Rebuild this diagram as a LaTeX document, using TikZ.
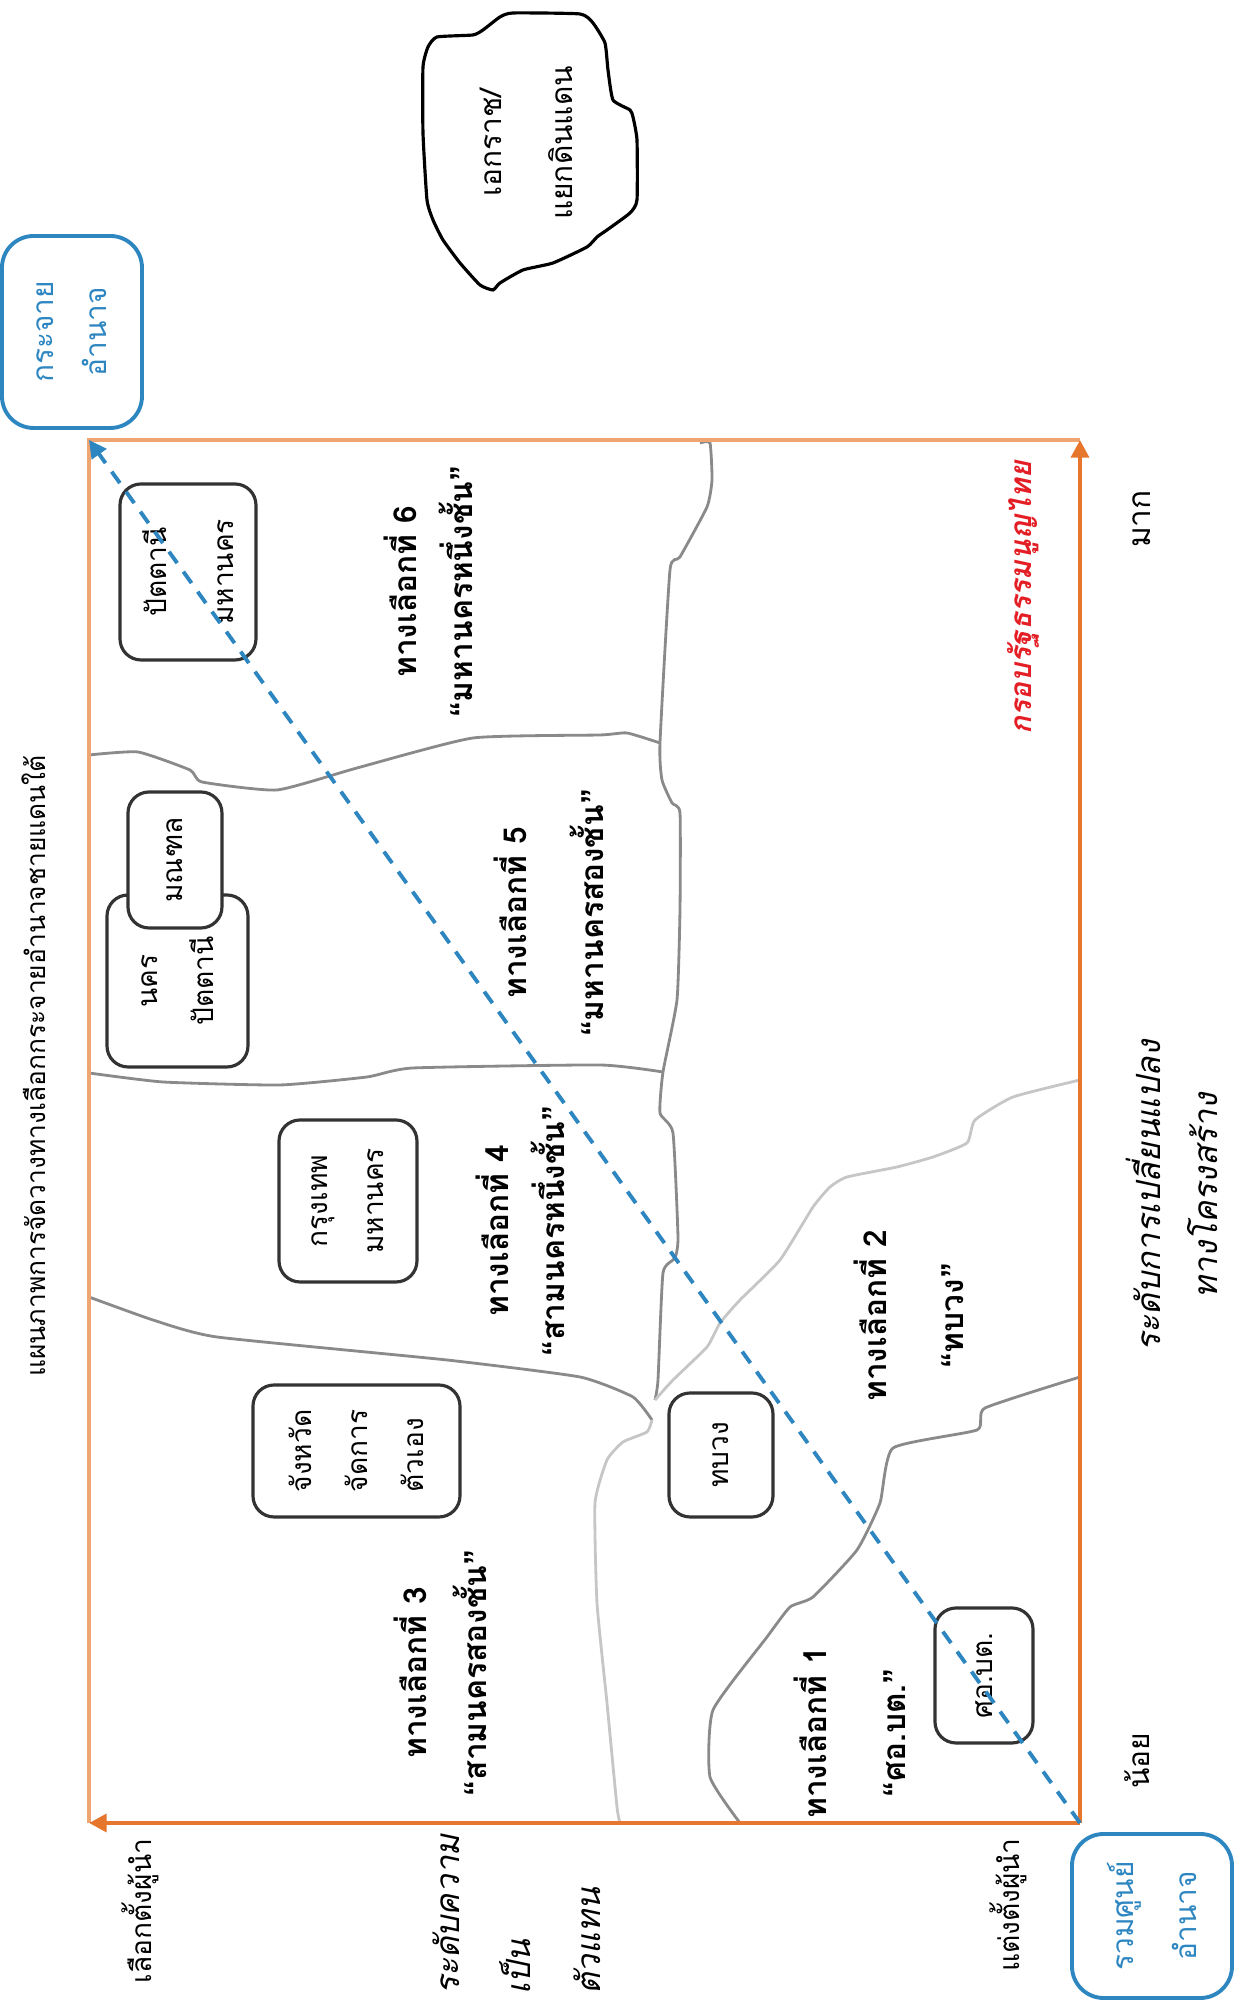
\documentclass[tikz,border=0pt]{standalone}
\usepackage{fontspec}
\setmainfont[Script=Thai]{Loma}
\newfontfamily\qfont{Liberation Sans}
\newcommand\oq{{\qfont “}}
\newcommand\cq{{\qfont ”}}
\usepackage{tikz}
\usetikzlibrary{arrows.meta,calc,positioning}
\definecolor{axis}{HTML}{E5762C}
\definecolor{frame}{HTML}{EFA572}
\definecolor{power}{HTML}{2E86C1}
\definecolor{limit}{HTML}{E31E24}
\definecolor{border}{HTML}{8A8A8A}
\definecolor{faint}{HTML}{C6C6C6}

\begin{document}
\begin{tikzpicture}[rotate=90,transform shape,
  lbl/.style={font=\fontsize{8}{16}\selectfont,align=center,inner sep=1pt},
  opt/.style={lbl,font=\fontsize{9}{16}\selectfont\bfseries},
  slant/.style={lbl,font=\fontsize{9.5}{16}\selectfont\itshape},
  unit/.style={lbl,draw=black!80,line width=0.9pt,rounded corners=6pt,fill=white},
  pole/.style={lbl,draw=power,line width=1.1pt,rounded corners=9pt,text=power},
  mapline/.style={border,line width=0.8pt},
  mapfaint/.style={faint,line width=0.8pt},
  tri/.style={-{Triangle[length=5pt,width=5pt]}}]
  \useasboundingbox (0,0) rectangle (20.01,12.42);

  \coordinate (O) at (1.78,1.62);
  \coordinate (xend) at (15.61,1.62);
  \coordinate (yend) at (1.78,11.53);
  \coordinate (corner) at (15.61,11.53);

  % region borders
  \draw[mapline] plot[smooth,tension=0.3] coordinates {(12.46,11.53) (12.49,11.04) (12.31,10.52) (12.19,10.40) (12.11,9.65) (12.33,8.85) (12.63,7.69) (12.66,6.42) (12.68,6.15) (12.58,5.82)};
  \draw[mapline] plot[smooth,tension=0.3] coordinates {(15.58,5.42) (15.58,5.32) (15.21,5.30) (14.94,5.35) (14.44,5.62) (14.31,5.72) (12.58,5.82) (12.21,5.80) (11.98,5.70) (11.88,5.62) (10.91,5.62) (10.01,5.65) (9.29,5.79) (8.88,5.82) (8.68,5.69) (7.64,5.64) (7.43,5.67) (7.28,5.79) (6.21,5.84) (6.01,5.87)};
  \draw[mapline] plot[smooth,tension=0.3] coordinates {(9.28,11.53) (9.19,10.79) (9.16,9.62) (9.24,8.75) (9.33,8.29) (9.36,6.42) (9.29,5.79)};
  \draw[mapline] plot[smooth,tension=0.3] coordinates {(7.04,11.53) (6.81,10.89) (6.64,10.25) (6.41,7.95) (6.24,6.62) (6.04,6.09) (5.81,5.90)};
  \draw[mapfaint] plot[smooth,tension=0.3] coordinates {(9.21,1.62) (9.04,2.29) (8.81,2.67) (8.58,2.75) (8.44,3.09) (8.34,3.45) (8.24,3.95) (8.14,4.12) (7.94,4.29) (7.41,4.62) (7.01,5.02) (6.78,5.22) (6.54,5.35) (6.21,5.69) (6.01,5.87)};
  \draw[mapfaint] plot[smooth,tension=0.3] coordinates {(5.81,5.90) (5.69,5.95) (5.59,6.19) (5.41,6.35) (4.98,6.47) (3.98,6.45) (2.98,6.35) (1.94,6.25) (1.78,6.22)};
  \draw[mapline] plot[smooth,tension=0.3] coordinates {(6.24,1.62) (5.93,2.57) (5.71,2.65) (5.53,3.49) (4.98,3.62) (4.51,3.85) (4.04,4.29) (3.94,4.52) (3.64,4.75) (2.91,5.29) (2.24,5.32) (1.78,5.02)};

  % frame and axes
  \draw[frame,line width=0.9pt] (yend) -- (corner) -- (xend);
  \draw[axis,line width=1.4pt,tri] (O) -- (xend);
  \draw[axis,line width=1.4pt,tri] (O) -- (yend);

  \node[unit,minimum width=1.76cm,minimum height=1.36cm,font=\fontsize{8}{19}\selectfont] (pattani) at (14.29,10.54) {ปัตตานี\\มหานคร};
  \node[unit,minimum width=1.72cm,minimum height=1.41cm] (nakhon) at (10.20,10.645) {นคร\\ปัตตานี};
  \node[unit,minimum width=1.36cm,minimum height=0.94cm] (monthon) at (11.41,10.67) {มณฑล};
  \node[unit,minimum width=1.62cm,minimum height=1.38cm] (bkk) at (8.00,8.94) {กรุงเทพ\\มหานคร};
  \node[unit,minimum width=1.32cm,minimum height=2.07cm,align=left] (province) at (5.50,8.855) {จังหวัด\\จัดการ\\ตัวเอง};
  \node[unit,minimum width=1.24cm,minimum height=1.04cm] (bureau) at (5.46,5.21) {ทบวง};
  \node[unit,minimum width=1.35cm,minimum height=0.98cm] (sbpac) at (3.255,2.58) {ศอ.บต.};

  \node[opt] (opt1) at (2.68,3.92) {ทางเลือกที่ 1\\[6.5pt]\oq ศอ.บต.\cq};
  \node[opt] (opt2) at (6.85,3.335) {ทางเลือกที่ 2\\[6pt]\oq ทบวง\cq};
  \node[opt] (opt3) at (3.28,8.02) {ทางเลือกที่ 3\\[1pt]\oq สามนครสองชั้น\cq};
  \node[opt] (opt4) at (7.70,7.22) {ทางเลือกที่ 4\\\oq สามนครหนึ่งชั้น\cq};
  \node[opt] (opt5) at (10.88,6.935) {ทางเลือกที่ 5\\[6pt]\oq มหานครสองชั้น\cq};
  \node[opt] (opt6) at (14.09,8.135) {ทางเลือกที่ 6\\\oq มหานครหนึ่งชั้น\cq};

  \draw[power,line width=1.1pt,dash pattern=on 4pt off 3pt,-{Triangle[length=5pt,width=5pt]}] (O) -- (corner);

  \node[pole,minimum width=1.92cm,minimum height=1.40cm,font=\fontsize{8.5}{15}\selectfont] (spread) at (16.69,11.70) {กระจาย\\อำนาจ};
  \node[pole,minimum width=1.64cm,minimum height=1.60cm,font=\fontsize{8.5}{18}\selectfont] (central) at (0.85,0.90) {รวมศูนย์\\อำนาจ};

  \draw[line width=0.9pt] plot[smooth cycle,tension=0.3] coordinates {(19.88,7.29) (19.87,6.62) (19.78,6.49) (19.58,6.37) (19.31,6.34) (19.01,6.29) (18.91,6.12) (18.84,6.09) (18.61,6.05) (18.01,6.05) (17.88,6.12) (17.71,6.35) (17.64,6.45) (17.54,6.55) (17.38,6.89) (17.31,7.19) (17.18,7.42) (17.11,7.49) (17.16,7.62) (17.38,7.82) (17.61,7.99) (17.81,8.09) (18.01,8.15) (18.68,8.19) (19.34,8.19) (19.54,8.14) (19.64,8.05) (19.66,7.69) (19.71,7.59) (19.84,7.42)};
  \node[lbl,font=\fontsize{8.5}{20}\selectfont] (indep) at (18.58,7.155) {เอกราช/\\แยกดินแดน};

  \node[lbl,font=\fontsize{7.5}{16}\selectfont] (title) at (9.35,12.08) {แผนภาพการจัดวางทางเลือกกระจายอำนาจชายแดนใต้};
  \node[lbl] (elect) at (0.90,11.02) {เลือกตั้งผู้นำ};
  \node[lbl] (appoint) at (0.96,2.34) {แต่งตั้งผู้นำ};
  \node[slant,font=\fontsize{9.5}{20}\selectfont\itshape,align=left,anchor=west] (repr) at (0.02,7.25) {ระดับความ\\เป็น\\ตัวแทน};
  \node[lbl,font=\fontsize{8.5}{16}\selectfont] (few) at (2.40,1.05) {น้อย};
  \node[lbl,font=\fontsize{9}{16}\selectfont] (many) at (14.82,1.00) {มาก};
  \node[slant] (struct) at (8.05,0.70) {ระดับการเปลี่ยนแปลง\\ทางโครงสร้าง};
  \node[lbl,font=\fontsize{8.5}{16}\selectfont\bfseries\itshape,text=limit,anchor=east] (charter) at (15.44,2.19) {กรอบรัฐธรรมนูญไทย};
\end{tikzpicture}
\end{document}
